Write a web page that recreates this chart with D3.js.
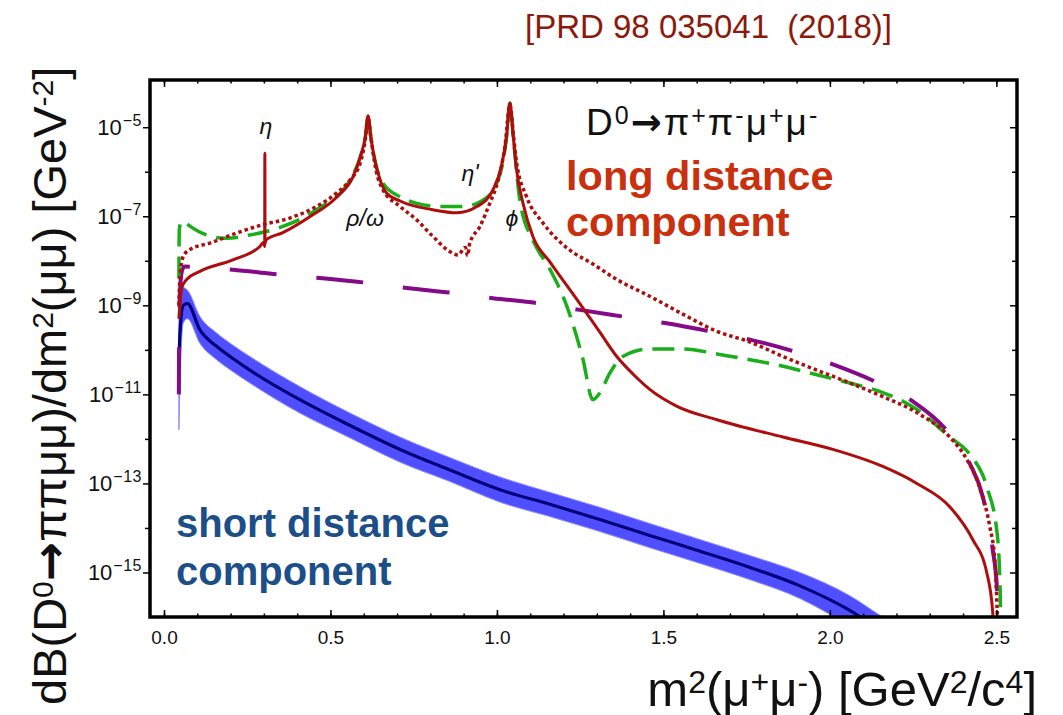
<!DOCTYPE html>
<html>
<head>
<meta charset="utf-8">
<script src="https://cdn.jsdelivr.net/npm/d3@7"></script>
<style>
  body { margin: 0; background: #fff; }
  svg { font-family: "Liberation Sans", Arial, Helvetica, sans-serif; }
</style>
</head>
<body>
<div id="chart"></div>
<script>
// long distance component, full model (solid red)  [m2, dB/dm2]
const ldSolid = [
  [0.0447, 5e-10], [0.053, 2.4e-9], [0.068, 3.8e-9], [0.108, 5.8e-9], [0.207, 1.05e-8],
  [0.288, 2.1e-8], [0.300, 2.6e-8], [0.3025, 2.1e-8], [0.303, 2.6e-6], [0.3035, 2.4e-8],
  [0.306, 2.9e-8], [0.357, 4.3e-8], [0.438, 9.8e-8], [0.520, 2.75e-7], [0.568, 7.8e-7],
  [0.590, 2.2e-6], [0.605, 6.2e-6], [0.613, 1.8e-5], [0.621, 6.2e-6], [0.631, 2.2e-6],
  [0.649, 6.6e-7], [0.669, 3.3e-7], [0.709, 2.2e-7], [0.808, 1.4e-7], [0.880, 1.2e-7],
  [0.940, 1.65e-7], [0.988, 3.9e-7], [1.013, 1.3e-6], [1.029, 6.2e-6], [1.039, 3.5e-5],
  [1.049, 6.2e-6], [1.059, 1.1e-6], [1.078, 2.0e-7], [1.108, 3.5e-8], [1.159, 9.5e-9],
  [1.239, 1.4e-9], [1.309, 2.5e-10], [1.360, 7.1e-11], [1.410, 2.8e-11], [1.459, 1.3e-11],
  [1.541, 5.4e-12], [1.661, 2.7e-12], [1.859, 1.1e-12], [2.009, 5.8e-13], [2.159, 2.4e-13],
  [2.261, 1.0e-13], [2.360, 3.0e-14], [2.429, 5.5e-15], [2.471, 1.0e-15], [2.489, 1.3e-16],
  [2.494, 3e-17]
]

// long distance, alternative model (dotted red)
const ldDotted = [
  [0.0447, 1e-9], [0.047, 3.2e-9], [0.053, 8.9e-9], [0.058, 1.26e-8], [0.078, 1.8e-8],
  [0.138, 2.5e-8], [0.218, 4.2e-8], [0.297, 6.5e-8], [0.378, 9.1e-8], [0.458, 1.66e-7],
  [0.518, 3.3e-7], [0.559, 6.6e-7], [0.589, 1.55e-6], [0.605, 5.5e-6], [0.613, 1.7e-5],
  [0.621, 6.2e-6], [0.635, 1.26e-6], [0.658, 3.9e-7], [0.709, 1.66e-7], [0.759, 8.3e-8],
  [0.808, 3.5e-8], [0.859, 1.6e-8], [0.883, 1.35e-8], [0.905, 2.0e-8], [0.912, 1.3e-8],
  [0.918, 2.4e-8], [0.949, 5.9e-8], [0.979, 2.0e-7], [1.004, 6.6e-7], [1.024, 3.7e-6],
  [1.039, 3.2e-5], [1.050, 6.2e-6], [1.059, 1.6e-6], [1.089, 2.75e-7], [1.138, 7.1e-8],
  [1.210, 1.95e-8], [1.288, 8.5e-9], [1.360, 3.8e-9], [1.459, 1.6e-9], [1.559, 6.3e-10],
  [1.661, 2.6e-10], [1.760, 1.5e-10], [1.859, 7.1e-11], [1.961, 3.5e-11], [2.060, 1.8e-11],
  [2.159, 8.9e-12], [2.261, 3.9e-12], [2.360, 1.1e-12], [2.411, 3.5e-13], [2.450, 8.1e-14],
  [2.480, 1.1e-14], [2.495, 2.0e-15], [2.502, 1.7e-16], [2.505, 3e-17]
]

// long distance, second variant (green dashed)
const ldGreen = [
  [0.0447, 4e-9], [0.046, 5e-8], [0.052, 7.6e-8], [0.065, 7.1e-8], [0.078, 6.0e-8],
  [0.128, 3.8e-8], [0.188, 3.2e-8], [0.258, 3.8e-8], [0.357, 5.9e-8], [0.458, 1.4e-7],
  [0.559, 6.6e-7], [0.590, 2.2e-6], [0.605, 6.2e-6], [0.613, 1.8e-5], [0.621, 6.2e-6],
  [0.631, 2.2e-6], [0.658, 5.5e-7], [0.709, 2.75e-7], [0.759, 1.95e-7], [0.829, 1.66e-7],
  [0.898, 1.66e-7], [0.958, 2.3e-7], [0.999, 5.5e-7], [1.020, 2.0e-6], [1.029, 6.2e-6],
  [1.039, 3.5e-5], [1.049, 6.2e-6], [1.059, 1.0e-6], [1.069, 2.2e-7], [1.109, 2.8e-8],
  [1.159, 6.5e-9], [1.209, 1.0e-9], [1.258, 6.3e-11], [1.288, 7.6e-12], [1.309, 1.07e-11],
  [1.339, 3.0e-11], [1.378, 7.1e-11], [1.459, 1.05e-10], [1.559, 1.05e-10], [1.661, 8.1e-11],
  [1.760, 6.0e-11], [1.859, 4.3e-11], [1.961, 2.75e-11], [2.060, 1.8e-11], [2.159, 1.1e-11],
  [2.261, 4.6e-12], [2.360, 1.1e-12], [2.420, 4.5e-13], [2.471, 8.5e-14], [2.502, 7.9e-15],
  [2.511, 5e-16], [2.514, 5e-17]
]

// purple long dashed curve
const ldPurple = [
  [0.0447, 1e-11], [0.046, 6.3e-10], [0.050, 3.5e-9], [0.056, 6.6e-9], [0.063, 7.4e-9],
  [0.207, 6.3e-9], [0.348, 4.9e-9], [0.468, 4.1e-9], [0.610, 3.2e-9], [0.730, 2.45e-9],
  [0.868, 1.9e-9], [0.988, 1.45e-9], [1.129, 1.1e-9], [1.249, 7.9e-10], [1.378, 5.6e-10],
  [1.505, 4.0e-10], [1.640, 2.6e-10], [1.760, 1.7e-10], [1.895, 9.1e-11], [2.009, 4.7e-11],
  [2.135, 1.95e-11], [2.246, 7.2e-12], [2.354, 1.45e-12], [2.420, 2.8e-13], [2.459, 5.1e-14],
  [2.489, 3.3e-15], [2.502, 4.2e-16], [2.506, 5e-17]
]

// short distance component: central value and band
const sdX    = [0.0447, 0.048, 0.058, 0.070, 0.108, 0.158, 0.208, 0.258, 0.408, 0.559, 0.709,
                0.859, 1.009, 1.159, 1.309, 1.459, 1.610, 1.760, 1.910, 2.060, 2.150, 2.250]
const sdMid  = [3.2e-11, 2.5e-10, 1e-9, 1.1e-9, 2.8e-10, 1.2e-10, 6.3e-11, 3.5e-11, 7.6e-12, 2.0e-12, 5.8e-13,
                2.0e-13, 7.2e-14, 3.4e-14, 1.55e-14, 6.8e-15, 3.0e-15, 1.3e-15, 5.0e-16, 1.4e-16, 5e-17, 2e-17]
const sdHigh = [5e-10, 1.8e-9, 2.5e-9, 2.2e-9, 5.6e-10, 2.4e-10, 1.26e-10, 7.1e-11, 1.5e-11, 3.8e-12, 1.1e-12,
                3.8e-13, 1.4e-13, 6.3e-14, 2.9e-14, 1.26e-14, 5.5e-15, 2.4e-15, 1.0e-15, 3.0e-16, 1.1e-16, 4e-17]
const sdLow  = [1.6e-12, 1.6e-11, 4e-10, 5e-10, 1.4e-10, 6e-11, 3.2e-11, 1.8e-11, 3.8e-12, 1.05e-12, 3.0e-13,
                1.1e-13, 3.8e-14, 1.8e-14, 8.3e-15, 3.6e-15, 1.6e-15, 6.9e-16, 2.6e-16, 6e-17, 2e-17, 1e-17]

const xTicks = [0, 0.5, 1.0, 1.5, 2.0, 2.5]
const yTickExps = [-5, -7, -9, -11, -13, -15]
const yMinorExps = [-6, -8, -10, -12, -14]

const WIDTH = 1063, HEIGHT = 715
const PL = 150, PR = 1017, PT = 80, PB = 617

const svg = d3.select("#chart").append("svg")
  .attr("width", WIDTH)
  .attr("height", HEIGHT)

svg.append("rect").attr("width", WIDTH).attr("height", HEIGHT).attr("fill", "#fff")

const x = d3.scaleLinear().domain([-0.042, 2.562]).range([PL, PR])
const y = d3.scaleLog().domain([1e-16, 1.15e-4]).range([PB, PT])

svg.append("clipPath").attr("id", "clip")
  .append("rect").attr("x", PL).attr("y", PT).attr("width", PR - PL).attr("height", PB - PT)

const plot = svg.append("g").attr("clip-path", "url(#clip)")

const line = d3.line()
  .x(d => x(d[0]))
  .y(d => y(d[1]))
  .curve(d3.curveMonotoneX)

// short distance band + central line
const band = d3.area()
  .x((d, i) => x(sdX[i]))
  .y0((d, i) => y(sdLow[i]))
  .y1((d, i) => y(sdHigh[i]))
  .curve(d3.curveMonotoneX)

plot.append("path").datum(sdX)
  .attr("d", band)
  .attr("fill", "#4f4fff")
  .attr("stroke", "#8f8fff")
  .attr("stroke-width", 1)

plot.append("path").datum(sdX.map((v, i) => [v, sdMid[i]]))
  .attr("d", line)
  .attr("fill", "none")
  .attr("stroke", "#00007a")
  .attr("stroke-width", 3.2)

plot.append("path").datum(ldPurple)
  .attr("d", line)
  .attr("fill", "none")
  .attr("stroke", "#850a88")
  .attr("stroke-width", 4)
  .attr("stroke-dasharray", "47,40")

plot.append("path").datum(ldGreen)
  .attr("d", line)
  .attr("fill", "none")
  .attr("stroke", "#1aae1a")
  .attr("stroke-width", 3.5)
  .attr("stroke-dasharray", "22,10")

plot.append("path").datum(ldDotted)
  .attr("d", line)
  .attr("fill", "none")
  .attr("stroke", "#ad0d0d")
  .attr("stroke-width", 3.5)
  .attr("stroke-dasharray", "3.5,3")

plot.append("path").datum(ldSolid)
  .attr("d", line)
  .attr("fill", "none")
  .attr("stroke", "#ad0d0d")
  .attr("stroke-width", 3)

// axes (ticks only), frame drawn after
function tickStyle(g) {
  g.select(".domain").remove()
  g.selectAll(".tick line").attr("stroke", "#000").attr("stroke-width", 1.5)
}

const minorX = d3.range(0, 2.55, 0.1)

svg.append("g").attr("transform", `translate(0,${PB})`)
  .call(d3.axisBottom(x).tickValues(minorX).tickSize(-3.5).tickFormat(""))
  .call(tickStyle)
svg.append("g").attr("transform", `translate(0,${PB})`)
  .call(d3.axisBottom(x).tickValues(xTicks).tickSize(-7).tickPadding(14).tickFormat(d3.format(".1f")))
  .call(tickStyle)
  .call(g => g.selectAll("text").attr("font-size", 19).attr("fill", "#111")
    .attr("font-family", "'Liberation Sans', Arial, sans-serif"))

svg.append("g").attr("transform", `translate(0,${PT})`)
  .call(d3.axisTop(x).tickValues(minorX).tickSize(-3.5).tickFormat(""))
  .call(tickStyle)
svg.append("g").attr("transform", `translate(0,${PT})`)
  .call(d3.axisTop(x).tickValues(xTicks).tickSize(-7).tickFormat(""))
  .call(tickStyle)

const yMajor = yTickExps.map(e => Math.pow(10, e))
const yMinor = yMinorExps.map(e => Math.pow(10, e))

svg.append("g").attr("transform", `translate(${PL},0)`)
  .call(d3.axisLeft(y).tickValues(yMajor).tickSize(7).tickFormat(""))
  .call(tickStyle)
svg.append("g").attr("transform", `translate(${PL},0)`)
  .call(d3.axisLeft(y).tickValues(yMinor).tickSize(5).tickFormat(""))
  .call(tickStyle)
svg.append("g").attr("transform", `translate(${PR},0)`)
  .call(d3.axisRight(y).tickValues(yMajor).tickSize(-7).tickFormat(""))
  .call(tickStyle)
svg.append("g").attr("transform", `translate(${PR},0)`)
  .call(d3.axisRight(y).tickValues(yMinor).tickSize(-5).tickFormat(""))
  .call(tickStyle)

svg.append("rect")
  .attr("x", PL).attr("y", PT)
  .attr("width", PR - PL).attr("height", PB - PT)
  .attr("fill", "none")
  .attr("stroke", "#000")
  .attr("stroke-width", 3.5)

// y tick labels: 10^n
const yLab = svg.append("g").selectAll("text").data(yTickExps).join("text")
  .attr("x", 142)
  .attr("y", d => y(Math.pow(10, d)) + 8)
  .attr("text-anchor", "end")
  .attr("font-size", 22)
  .attr("fill", "#111")
yLab.append("tspan").text("10")
yLab.append("tspan").attr("dy", -9).attr("dx", 1).attr("font-size", 16)
  .attr("letter-spacing", 0.5).text(d => "\u2212" + Math.abs(d))

// rich text helper: parts = [[string, kind]]  kind: 1 = superscript, "a" = arrow glyph
function rich(text, parts, supSize, raise) {
  let up = false
  parts.forEach(([s, kind]) => {
    const t = text.append("tspan").text(s)
    if (kind === 1) {
      t.attr("font-size", supSize)
      if (!up) { t.attr("dy", -raise); up = true }
      return
    }
    if (kind === "a") t.attr("font-family", "'DejaVu Sans', sans-serif").attr("font-weight", "bold")
    if (up) { t.attr("dy", raise); up = false }
  })
}

// axis titles
const xt = svg.append("text")
  .attr("x", 1037).attr("y", 706)
  .attr("text-anchor", "end")
  .attr("font-size", 49)
  .attr("fill", "#111")
rich(xt, [["m"], ["2", 1], ["(\u03bc"], ["+", 1], ["\u03bc"], ["-", 1], [") [GeV"], ["2", 1], ["/c"], ["4", 1], ["]"]], 32, 13)

const yt = svg.append("text")
  .attr("transform", "translate(66,705) rotate(-90)")
  .attr("font-size", 47)
  .attr("fill", "#111")
rich(yt, [["dB(D"], ["0", 1], ["\u2192", "a"], ["\u03c0\u03c0\u03bc\u03bc)/dm"], ["2", 1], ["(\u03bc\u03bc) [GeV"], ["-2", 1], ["]"]], 30, 13)

// reference
svg.append("text")
  .attr("x", 525).attr("y", 38)
  .attr("font-size", 33)
  .attr("fill", "#8c1a0c")
  .attr("xml:space", "preserve")
  .text("[PRD 98 035041  (2018)]")

// decay label
const dt = svg.append("text")
  .attr("x", 586).attr("y", 135)
  .attr("font-size", 37)
  .attr("letter-spacing", 2)
  .attr("fill", "#111")
rich(dt, [["D"], ["0", 1], ["\u2192", "a"], ["\u03c0"], ["+", 1], ["\u03c0"], ["-", 1], ["\u03bc"], ["+", 1], ["\u03bc"], ["-", 1]], 25, 11)

// component labels
const ldColor = "#c8300e", sdColor = "#1c4f87"
svg.append("text").attr("x", 566).attr("y", 190)
  .attr("font-size", 41.5).attr("font-weight", "bold").attr("fill", ldColor).text("long distance")
svg.append("text").attr("x", 566).attr("y", 236)
  .attr("font-size", 41.5).attr("font-weight", "bold").attr("fill", ldColor).text("component")
svg.append("text").attr("x", 176).attr("y", 537)
  .attr("font-size", 40).attr("font-weight", "bold").attr("fill", sdColor).text("short distance")
svg.append("text").attr("x", 176).attr("y", 585)
  .attr("font-size", 40).attr("font-weight", "bold").attr("fill", sdColor).text("component")

// resonance labels
const res = svg.append("g")
  .attr("font-size", 23)
  .attr("font-style", "italic")
  .attr("fill", "#111")
  .attr("text-anchor", "middle")
res.append("text").attr("x", x(0.306)).attr("y", y(7.1e-6)).text("\u03b7")
res.append("text").attr("x", x(0.604)).attr("y", y(6.2e-8)).text("\u03c1/\u03c9")
res.append("text").attr("x", x(0.919)).attr("y", y(6.3e-7)).text("\u03b7'")
res.append("text").attr("x", x(1.045)).attr("y", y(6.2e-8)).text("\u03d5")
</script>
</body>
</html>
